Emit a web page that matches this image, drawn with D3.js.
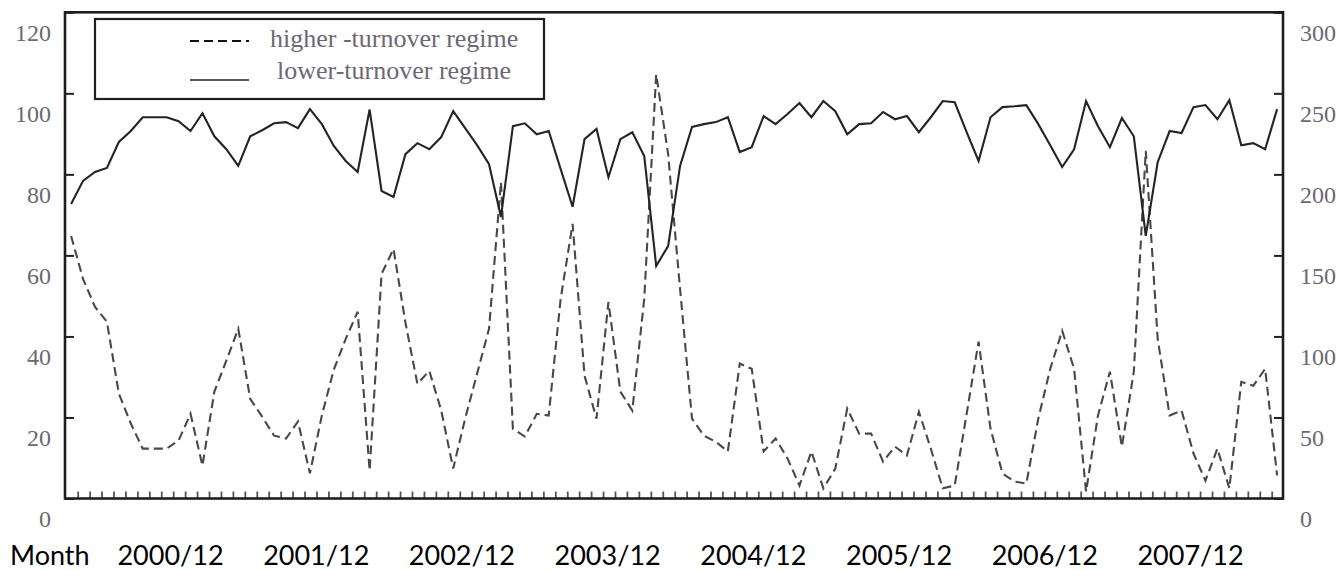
<!DOCTYPE html>
<html>
<head>
<meta charset="utf-8">
<script src="https://cdn.jsdelivr.net/npm/d3@7/dist/d3.min.js"></script>
<style>
  html, body { margin: 0; padding: 0; background: #fff; }
  svg { display: block; }
</style>
</head>
<body>
<div id="chart"></div>
<script>
// monthly series, one value per month
const lowerTurnover = [
  72.7, 78.4, 80.6, 81.6, 88.0, 90.7, 94.1, 94.1, 94.1, 93.1,
  90.7, 95.1, 89.4, 86.2, 82.1, 89.4, 90.9, 92.6, 92.9, 91.4,
  96.1, 92.4, 87.0, 83.3, 80.6, 96.0, 75.9, 74.4, 85.0, 87.7,
  86.2, 89.2, 95.6, 91.4, 87.2, 82.5, 69.5, 91.9, 92.6, 89.9,
  90.7, 81.3, 72.0, 88.7, 91.2, 79.3, 88.7, 90.4, 84.5, 57.4,
  62.3, 82.1, 91.7, 92.4, 92.9, 94.1, 85.5, 86.7, 94.4, 92.4,
  94.9, 97.6, 94.1, 98.1, 95.6, 89.9, 92.4, 92.6, 95.4, 93.6,
  94.4, 90.4, 94.1, 98.1, 97.8, 90.4, 83.3, 94.1, 96.6, 96.8,
  97.1, 92.4, 87.2, 81.8, 86.2, 98.1, 91.9, 86.7, 93.9, 89.4,
  64.8, 83.0, 90.7, 90.2, 96.6, 97.1, 93.6, 98.3, 87.2, 87.7,
  86.2, 96.1
];

const higherTurnover = [
  64.8, 54.2, 47.3, 43.6, 25.9, 18.5, 12.3, 12.3, 12.3, 14.3,
  20.9, 8.1, 26.4, 34.0, 41.9, 24.6, 20.2, 15.5, 14.8, 19.0,
  6.2, 20.5, 31.8, 39.4, 46.1, 6.9, 55.4, 61.6, 43.4, 28.3,
  31.5, 21.7, 7.4, 19.7, 30.8, 41.9, 78.1, 17.2, 15.3, 20.9,
  20.5, 49.3, 67.8, 30.3, 19.7, 48.5, 26.4, 21.7, 49.3, 104.7,
  85.0, 51.7, 19.7, 15.5, 14.0, 11.6, 33.3, 32.0, 11.6, 14.8,
  9.9, 3.2, 11.6, 2.5, 7.4, 22.2, 16.0, 16.0, 9.1, 12.8,
  10.6, 21.4, 12.3, 2.5, 3.2, 20.9, 38.7, 17.2, 6.2, 4.2,
  3.7, 19.7, 32.0, 41.4, 32.0, 1.7, 20.5, 31.3, 12.8, 31.3,
  85.8, 39.4, 20.5, 21.7, 11.1, 4.4, 12.3, 2.5, 28.8, 27.8,
  32.0, 5.7
];

const leftTicks = [0, 20, 40, 60, 80, 100, 120];
const rightTicks = [0, 50, 100, 150, 200, 250, 300];
const monthLabels = ['2000/12', '2001/12', '2002/12', '2003/12', '2004/12', '2005/12', '2006/12', '2007/12'];

const width = 1341;
const height = 570;
const plot = { left: 65, right: 1283, top: 12.3, bottom: 498.5 };
const labelColor = '#6d6874';
const serif = '"Liberation Serif", "DejaVu Serif", serif';

const svg = d3.select('#chart').append('svg')
  .attr('width', width)
  .attr('height', height)
  .style('background', '#fff');

const x = d3.scaleLinear()
  .domain([0, lowerTurnover.length - 1])
  .range([71.1, 1277.1]);

const y = d3.scaleLinear()
  .domain([0, 120])
  .range([plot.bottom, plot.top]);

const yRight = d3.scaleLinear()
  .domain([0, 300])
  .range([plot.bottom, plot.top]);

// Bottom axis: small inward month ticks
svg.append('g')
  .attr('transform', `translate(0,${plot.bottom})`)
  .call(d3.axisBottom(x)
    .tickValues(d3.range(lowerTurnover.length - 1).map(i => i + 0.55))
    .tickSizeInner(-7)
    .tickSizeOuter(0)
    .tickFormat(''))
  .call(g => g.select('.domain').remove())
  .selectAll('line')
  .attr('stroke', '#555')
  .attr('stroke-width', 1.8);

// Left axis (labels sit a bit below their ticks, as in the source)
svg.append('g')
  .attr('transform', `translate(${plot.left},0)`)
  .call(d3.axisLeft(y).tickValues(leftTicks).tickSizeInner(-9).tickSizeOuter(0).tickPadding(14))
  .call(g => g.select('.domain').remove())
  .call(g => g.selectAll('line').attr('stroke', '#222').attr('stroke-width', 2))
  .selectAll('text')
  .attr('dy', 28)
  .style('font-family', serif)
  .style('font-size', '24px')
  .style('fill', labelColor);

// Right axis
svg.append('g')
  .attr('transform', `translate(${plot.right},0)`)
  .call(d3.axisRight(yRight).tickValues(rightTicks).tickSizeInner(-9).tickSizeOuter(0).tickPadding(17))
  .call(g => g.select('.domain').remove())
  .call(g => g.selectAll('line').attr('stroke', '#222').attr('stroke-width', 2))
  .selectAll('text')
  .attr('dy', 28)
  .style('font-family', serif)
  .style('font-size', '24px')
  .style('fill', labelColor);

// Frame
svg.append('rect')
  .attr('x', plot.left)
  .attr('y', plot.top)
  .attr('width', plot.right - plot.left)
  .attr('height', plot.bottom - plot.top)
  .attr('fill', 'none')
  .attr('stroke', '#1e1e1e')
  .attr('stroke-width', 2.6);

const line = d3.line()
  .x((d, i) => x(i))
  .y(d => y(d));

svg.append('path')
  .datum(higherTurnover)
  .attr('d', line)
  .attr('fill', 'none')
  .attr('stroke', '#484848')
  .attr('stroke-width', 2.1)
  .attr('stroke-dasharray', '9,5');

svg.append('path')
  .datum(lowerTurnover)
  .attr('d', line)
  .attr('fill', 'none')
  .attr('stroke', '#242424')
  .attr('stroke-width', 2.1)
  .attr('stroke-linejoin', 'miter');

// Legend
const legend = svg.append('g');

legend.append('rect')
  .attr('x', 95)
  .attr('y', 19)
  .attr('width', 449)
  .attr('height', 80)
  .attr('fill', '#fff')
  .attr('stroke', '#1e1e1e')
  .attr('stroke-width', 2.2);

legend.append('line')
  .attr('x1', 190).attr('x2', 249)
  .attr('y1', 41).attr('y2', 41)
  .attr('stroke', '#111')
  .attr('stroke-width', 2)
  .attr('stroke-dasharray', '9,5');

legend.append('line')
  .attr('x1', 190).attr('x2', 249)
  .attr('y1', 80).attr('y2', 80)
  .attr('stroke', '#555')
  .attr('stroke-width', 1.8);

legend.append('text')
  .attr('x', 270)
  .attr('y', 47)
  .style('font-family', serif)
  .style('font-size', '26px')
  .style('fill', labelColor)
  .text('higher -turnover regime');

legend.append('text')
  .attr('x', 277)
  .attr('y', 79)
  .style('font-family', serif)
  .style('font-size', '26px')
  .style('fill', labelColor)
  .text('lower-turnover regime');

// Month labels under the axis
const xLabel = d3.scalePoint()
  .domain(monthLabels)
  .range([170.5, 1190.5]);

svg.append('text')
  .attr('x', 10)
  .attr('y', 565)
  .style('font-family', 'Lato, "Open Sans", sans-serif')
  .style('font-size', '27px')
  .style('fill', '#000')
  .text('Month');

svg.append('g')
  .selectAll('text')
  .data(monthLabels)
  .enter()
  .append('text')
  .attr('x', d => xLabel(d))
  .attr('y', 565)
  .style('text-anchor', 'middle')
  .style('font-family', 'Lato, "Open Sans", sans-serif')
  .style('font-size', '27px')
  .style('fill', '#000')
  .text(d => d);
</script>
</body>
</html>
